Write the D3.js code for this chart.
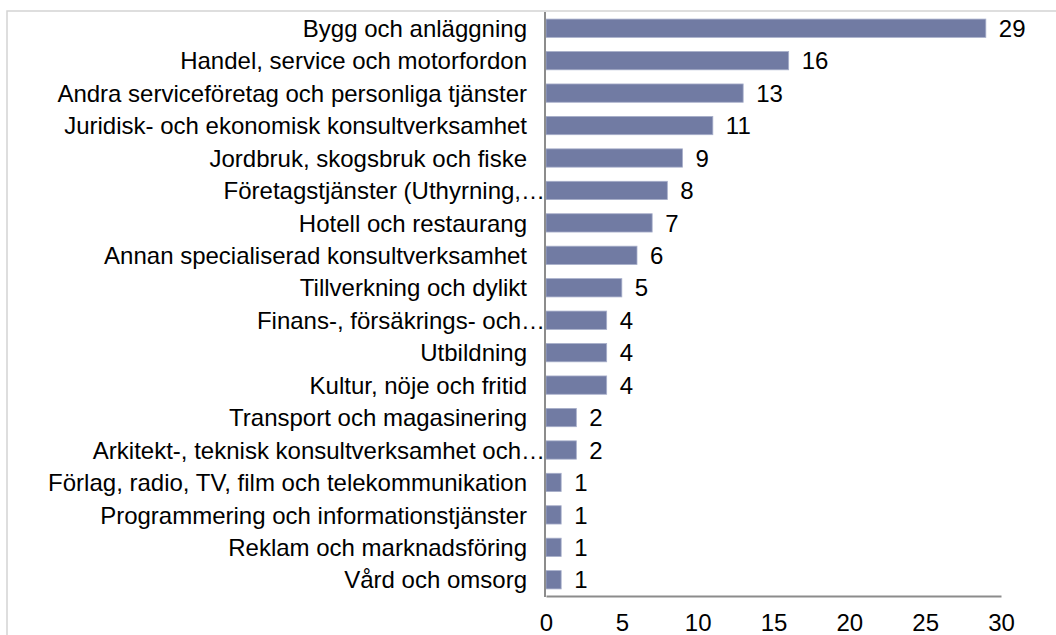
<!DOCTYPE html>
<html>
<head>
<meta charset="utf-8">
<script src="https://cdn.jsdelivr.net/npm/d3@7"></script>
<style>
  html, body { margin: 0; padding: 0; background: #fff; }
  svg { display: block; }
  text { font-family: "Liberation Sans", Arial, sans-serif; fill: #000; }
</style>
</head>
<body>
<svg id="chart" width="1056" height="635"></svg>
<script>
const categories = [
  "Bygg och anläggning",
  "Handel, service och motorfordon",
  "Andra serviceföretag och personliga tjänster",
  "Juridisk- och ekonomisk konsultverksamhet",
  "Jordbruk, skogsbruk och fiske",
  "Företagstjänster (Uthyrning,…",
  "Hotell och restaurang",
  "Annan specialiserad konsultverksamhet",
  "Tillverkning och dylikt",
  "Finans-, försäkrings- och…",
  "Utbildning",
  "Kultur, nöje och fritid",
  "Transport och magasinering",
  "Arkitekt-, teknisk konsultverksamhet och…",
  "Förlag, radio, TV, film och telekommunikation",
  "Programmering och informationstjänster",
  "Reklam och marknadsföring",
  "Vård och omsorg"
];
const values = [29, 16, 13, 11, 9, 8, 7, 6, 5, 4, 4, 4, 2, 2, 1, 1, 1, 1];
const tickValues = [0, 5, 10, 15, 20, 25, 30];

const svg = d3.select("#chart");
const W = 1056, H = 635;
const FS = 24;

// outer frame (light gray)
svg.append("rect")
  .attr("x", 7).attr("y", 11)
  .attr("width", W + 10).attr("height", H + 10)
  .attr("fill", "none").attr("stroke", "#d4d4d4").attr("stroke-width", 1.5);

const x = d3.scaleLinear().domain([0, 30]).range([546, 1001]);
const y = d3.scaleBand().domain(categories).range([12, 596])
  .paddingInner(0.436).paddingOuter(0.218);

const data = categories.map((c, i) => ({ c, v: values[i] }));

// bars
svg.append("g").selectAll("rect").data(data).join("rect")
  .attr("x", x(0))
  .attr("y", d => y(d.c))
  .attr("width", d => x(d.v) - x(0))
  .attr("height", y.bandwidth())
  .attr("fill", "#717ba3")
  .attr("stroke", "#a8afca")
  .attr("stroke-width", 0.8);

// value labels
svg.append("g").selectAll("text").data(data).join("text")
  .attr("x", d => x(d.v) + 13)
  .attr("y", d => y(d.c) + y.bandwidth() / 2)
  .attr("dy", "0.36em")
  .attr("font-size", FS)
  .text(d => d.v);

// category labels
svg.append("g").selectAll("text").data(data).join("text")
  .attr("x", d => d.c.endsWith("…") ? 545 : 527)
  .attr("y", d => y(d.c) + y.bandwidth() / 2)
  .attr("dy", "0.36em")
  .attr("text-anchor", "end")
  .attr("font-size", FS)
  .text(d => d.c);

// x axis
const xAxis = d3.axisBottom(x).tickValues(tickValues).tickSize(0).tickPadding(18);
const gx = svg.append("g").attr("transform", "translate(0,596)").call(xAxis);
gx.select(".domain").attr("stroke", "#8c8c8c").attr("stroke-width", 2);
gx.selectAll("text").attr("font-size", FS)
  .style("font-family", '"Liberation Sans", Arial, sans-serif').attr("fill", "#000");

// y axis line
svg.append("line")
  .attr("x1", 545).attr("x2", 545).attr("y1", 12).attr("y2", 597)
  .attr("stroke", "#8c8c8c").attr("stroke-width", 2);
</script>
</body>
</html>
